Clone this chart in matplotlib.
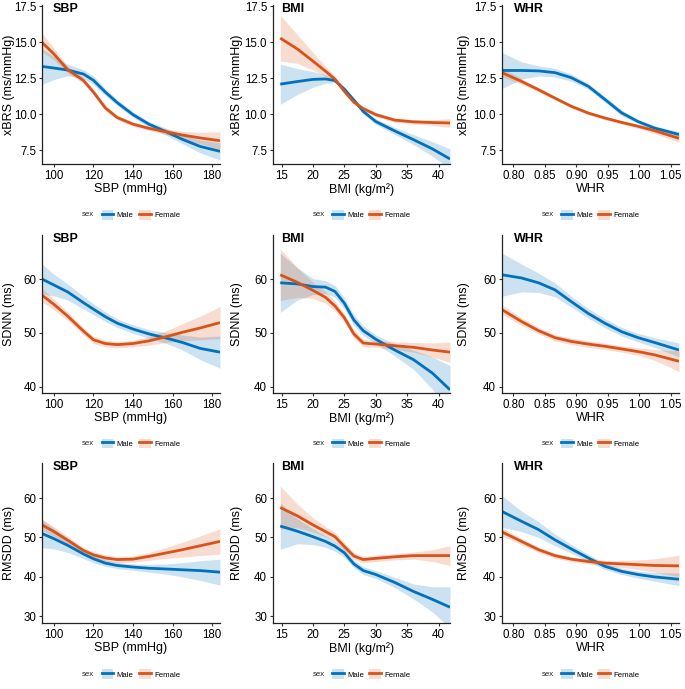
import matplotlib.pyplot as plt
from matplotlib.patches import Patch
from matplotlib.lines import Line2D
from matplotlib.ticker import FormatStrFormatter

plt.rcParams['font.family'] = ['Liberation Sans', 'DejaVu Sans']

# --- data (smooth fit + CI half width) ---
sbp_x = [94, 100, 107, 115, 120, 126, 132, 140, 148, 157, 165, 174, 184]
bmi_x = [14.8, 17.5, 20.0, 22.0, 23.5, 25.0, 26.5, 28.0, 30.0, 33.0, 36.0, 39.0, 41.8]
whr_x = [0.782, 0.813, 0.84, 0.866, 0.892, 0.919, 0.945, 0.972, 0.998, 1.024, 1.063]

# xBRS
xbrs_sbp_m = [13.33, 13.22, 13.08, 12.8, 12.37, 11.55, 10.82, 9.98, 9.32, 8.78, 8.26, 7.77, 7.43]
xbrs_sbp_m_ci = [1.25, 0.8, 0.4, 0.3, 0.3, 0.25, 0.2, 0.2, 0.2, 0.25, 0.3, 0.45, 0.6]
xbrs_sbp_f = [15.0, 14.2, 13.1, 12.35, 11.55, 10.45, 9.78, 9.32, 9.03, 8.78, 8.56, 8.36, 8.17]
xbrs_sbp_f_ci = [0.65, 0.4, 0.25, 0.2, 0.2, 0.2, 0.15, 0.15, 0.15, 0.2, 0.25, 0.4, 0.6]

xbrs_bmi_m = [12.1, 12.28, 12.43, 12.46, 12.35, 11.75, 11.0, 10.2, 9.5, 8.85, 8.24, 7.6, 6.9]
xbrs_bmi_m_ci = [1.4, 0.9, 0.55, 0.3, 0.15, 0.15, 0.15, 0.15, 0.2, 0.25, 0.35, 0.5, 0.7]
xbrs_bmi_f = [15.3, 14.55, 13.7, 13.0, 12.45, 11.6, 10.85, 10.4, 9.98, 9.6, 9.48, 9.43, 9.4]
xbrs_bmi_f_ci = [1.6, 1.0, 0.6, 0.35, 0.2, 0.15, 0.15, 0.15, 0.15, 0.15, 0.15, 0.2, 0.3]

xbrs_whr_m = [13.05, 13.05, 13.02, 12.9, 12.55, 11.95, 11.05, 10.1, 9.5, 9.05, 8.6]
xbrs_whr_m_ci = [1.25, 0.6, 0.35, 0.3, 0.25, 0.2, 0.2, 0.2, 0.15, 0.15, 0.2]
xbrs_whr_f = [12.9, 12.29, 11.71, 11.13, 10.56, 10.09, 9.75, 9.44, 9.17, 8.87, 8.33]
xbrs_whr_f_ci = [0.3, 0.2, 0.15, 0.12, 0.12, 0.12, 0.12, 0.12, 0.15, 0.2, 0.28]

# SDNN
sdnn_sbp_m = [60.0, 58.9, 57.6, 55.6, 54.4, 53.0, 51.8, 50.7, 49.8, 49.0, 48.2, 47.1, 46.4]
sdnn_sbp_m_ci = [2.8, 2.0, 1.5, 1.2, 1.0, 0.9, 0.8, 0.8, 0.8, 1.0, 1.4, 2.1, 3.0]
sdnn_sbp_f = [57.0, 55.3, 53.1, 50.3, 48.7, 48.0, 47.8, 48.0, 48.5, 49.3, 50.1, 50.9, 51.9]
sdnn_sbp_f_ci = [1.3, 1.0, 0.8, 0.7, 0.7, 0.6, 0.6, 0.6, 0.8, 1.1, 1.6, 2.2, 3.0]

sdnn_bmi_m = [59.3, 59.1, 58.6, 58.5, 57.7, 55.5, 52.4, 50.4, 48.8, 46.8, 45.0, 42.5, 39.4]
sdnn_bmi_m_ci = [5.5, 3.0, 1.5, 1.2, 1.1, 1.0, 1.0, 0.9, 0.8, 1.1, 1.8, 3.0, 4.5]
sdnn_bmi_f = [60.8, 59.4, 57.9, 56.6, 55.0, 52.8, 49.8, 48.1, 47.9, 47.6, 47.3, 46.8, 46.4]
sdnn_bmi_f_ci = [4.8, 2.8, 1.5, 1.1, 0.9, 0.8, 0.8, 0.7, 0.6, 0.7, 0.9, 1.3, 1.9]

sdnn_whr_m = [60.8, 60.2, 59.3, 58.0, 55.8, 53.6, 51.8, 50.2, 49.1, 48.2, 46.8]
sdnn_whr_m_ci = [4.0, 2.6, 1.8, 1.3, 1.0, 0.9, 0.85, 0.8, 0.8, 0.9, 1.3]
sdnn_whr_f = [54.3, 52.1, 50.4, 49.1, 48.4, 47.9, 47.5, 47.0, 46.5, 45.9, 44.7]
sdnn_whr_f_ci = [0.9, 0.7, 0.6, 0.6, 0.6, 0.6, 0.6, 0.6, 0.7, 1.0, 1.9]

# RMSDD
rmsdd_sbp_m = [51.0, 49.7, 48.0, 45.8, 44.6, 43.5, 42.9, 42.5, 42.2, 42.0, 41.8, 41.6, 41.2]
rmsdd_sbp_m_ci = [3.6, 2.6, 1.8, 1.2, 1.0, 0.8, 0.8, 0.8, 1.0, 1.3, 1.8, 2.5, 3.3]
rmsdd_sbp_f = [53.2, 51.5, 49.3, 46.7, 45.6, 44.8, 44.4, 44.5, 45.2, 46.1, 46.9, 47.9, 49.0]
rmsdd_sbp_f_ci = [1.5, 1.2, 1.0, 0.8, 0.8, 0.8, 0.8, 0.8, 1.0, 1.4, 1.9, 2.5, 3.2]

rmsdd_bmi_m = [52.9, 51.6, 50.2, 49.0, 47.8, 46.1, 43.3, 41.6, 40.6, 38.6, 36.3, 34.3, 32.3]
rmsdd_bmi_m_ci = [5.9, 3.2, 2.0, 1.5, 1.3, 1.1, 1.0, 1.0, 1.0, 1.3, 1.9, 3.2, 5.2]
rmsdd_bmi_f = [57.6, 55.5, 53.2, 51.5, 50.2, 47.7, 45.3, 44.4, 44.7, 45.1, 45.4, 45.4, 45.4]
rmsdd_bmi_f_ci = [5.5, 3.0, 1.8, 1.3, 1.1, 1.0, 0.9, 0.8, 0.8, 0.8, 0.9, 1.5, 2.5]

rmsdd_whr_m = [56.6, 54.1, 52.0, 49.4, 47.1, 44.8, 42.7, 41.4, 40.6, 40.0, 39.4]
rmsdd_whr_m_ci = [4.0, 2.6, 2.0, 1.5, 1.1, 0.9, 0.8, 0.8, 0.9, 1.1, 1.6]
rmsdd_whr_f = [51.4, 49.0, 46.9, 45.4, 44.5, 43.9, 43.5, 43.3, 43.1, 42.9, 42.8]
rmsdd_whr_f_ci = [1.0, 0.8, 0.7, 0.7, 0.6, 0.6, 0.7, 0.9, 1.2, 1.7, 2.7]

predictors = ['SBP', 'BMI', 'WHR']
x_labels = ['SBP (mmHg)', 'BMI (kg/m²)', 'WHR']
x_grids = [sbp_x, bmi_x, whr_x]
outcomes = ['xBRS (ms/mmHg)', 'SDNN (ms)', 'RMSDD (ms)']
sexes = ['Male', 'Female']

curves = [
    [(xbrs_sbp_m, xbrs_sbp_m_ci, xbrs_sbp_f, xbrs_sbp_f_ci),
     (xbrs_bmi_m, xbrs_bmi_m_ci, xbrs_bmi_f, xbrs_bmi_f_ci),
     (xbrs_whr_m, xbrs_whr_m_ci, xbrs_whr_f, xbrs_whr_f_ci)],
    [(sdnn_sbp_m, sdnn_sbp_m_ci, sdnn_sbp_f, sdnn_sbp_f_ci),
     (sdnn_bmi_m, sdnn_bmi_m_ci, sdnn_bmi_f, sdnn_bmi_f_ci),
     (sdnn_whr_m, sdnn_whr_m_ci, sdnn_whr_f, sdnn_whr_f_ci)],
    [(rmsdd_sbp_m, rmsdd_sbp_m_ci, rmsdd_sbp_f, rmsdd_sbp_f_ci),
     (rmsdd_bmi_m, rmsdd_bmi_m_ci, rmsdd_bmi_f, rmsdd_bmi_f_ci),
     (rmsdd_whr_m, rmsdd_whr_m_ci, rmsdd_whr_f, rmsdd_whr_f_ci)],
]

# --- layout / style ---
BLUE = '#0072BD'
ORANGE = '#D95319'
cols = [BLUE, ORANGE]

x_lims = [(94, 184), (13.6, 41.8), (0.7815, 1.063)]
x_ticks = [[100, 120, 140, 160, 180], [15, 20, 25, 30, 35, 40],
           [0.80, 0.85, 0.90, 0.95, 1.00, 1.05]]
x_fmt = ['%d', '%d', '%.2f']
y_lims = [(6.55, 17.6), (38.8, 68.2), (28.3, 68.9)]
y_ticks = [[7.5, 10.0, 12.5, 15.0, 17.5], [40, 50, 60], [30, 40, 50, 60]]
y_fmt = ['%.1f', '%d', '%d']

W, H = 685, 689
col_left = [42, 272.7, 501.7]
col_width = [178, 177.3, 177.3]
row_bottom = [164, 393, 623]
row_height = [159, 158, 160]
ylab_x = [-0.15, -0.168, -0.179]
title_x = [0.062, 0.05, 0.07]

fig = plt.figure(figsize=(W / 100, H / 100), dpi=100)

for r in range(3):
    for c in range(3):
        ax = fig.add_axes([col_left[c] / W, 1 - row_bottom[r] / H,
                           col_width[c] / W, row_height[r] / H])
        x = x_grids[c]
        m, m_ci, f, f_ci = curves[r][c]
        for vals, ci, col in [(m, m_ci, BLUE), (f, f_ci, ORANGE)]:
            lo = [v - e for v, e in zip(vals, ci)]
            hi = [v + e for v, e in zip(vals, ci)]
            ax.fill_between(x, lo, hi, color=col, alpha=0.2, lw=0)
        for vals, col in [(m, BLUE), (f, ORANGE)]:
            ax.plot(x, vals, color=col, lw=2.0, solid_capstyle='butt',
                    solid_joinstyle='round')

        ax.set_xlim(*x_lims[c])
        ax.set_ylim(*y_lims[r])
        ax.set_xticks(x_ticks[c])
        ax.set_yticks(y_ticks[r])
        ax.xaxis.set_major_formatter(FormatStrFormatter(x_fmt[c]))
        ax.yaxis.set_major_formatter(FormatStrFormatter(y_fmt[r]))
        for s in ['top', 'right']:
            ax.spines[s].set_visible(False)
        for s in ['left', 'bottom']:
            ax.spines[s].set_color('#222222')
            ax.spines[s].set_linewidth(0.9)
        ax.tick_params(length=2.5, width=0.8, color='#333333', labelsize=8.3,
                       pad=1.5, labelcolor='black')
        ax.set_xlabel(x_labels[c], fontsize=9, labelpad=1)
        ax.set_ylabel(outcomes[r], fontsize=9)
        ax.yaxis.set_label_coords(ylab_x[c], 0.5)
        ax.text(title_x[c], 0.972, predictors[c], transform=ax.transAxes,
                fontsize=9, fontweight='bold', va='center', ha='left')

        handles = [(Patch(facecolor=col, alpha=0.2, lw=0),
                    Line2D([], [], color=col, lw=2.0)) for col in cols]
        ax.legend(handles, sexes, loc='center', bbox_to_anchor=(0.556, -0.32),
                  ncol=2, frameon=False, fontsize=5.6, handlelength=1.5,
                  handleheight=1.5, handletextpad=0.45, columnspacing=0.7,
                  borderpad=0)
        ax.text(0.258, -0.32, 'sex', transform=ax.transAxes, fontsize=5.6,
                ha='center', va='center', color='#222222')

fig.savefig('out.png', dpi=100)
